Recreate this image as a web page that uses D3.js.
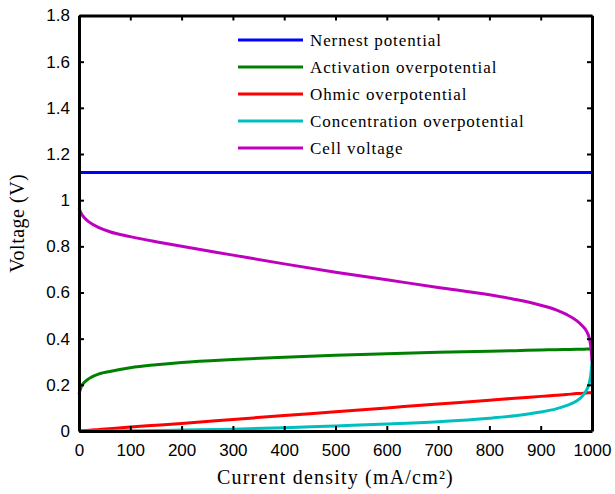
<!DOCTYPE html>
<html>
<head>
<meta charset="utf-8">
<script src="https://cdn.jsdelivr.net/npm/d3@7"></script>
<style>
  body { margin: 0; background: #fff; }
  svg { display: block; }
</style>
</head>
<body>
<div id="chart"></div>
<script>
// current density samples (mA/cm²)
var current = [0, 5, 10, 20, 40, 60, 100, 150, 200, 300, 400, 500, 600, 700, 800, 850, 900, 930, 950, 970, 980, 990, 995, 998, 1000];

// values (V)
var nernst = [1.12, 1.12, 1.12, 1.12, 1.12, 1.12, 1.12, 1.12, 1.12, 1.12, 1.12, 1.12, 1.12, 1.12, 1.12, 1.12, 1.12, 1.12, 1.12, 1.12, 1.12, 1.12, 1.12, 1.12, 1.12];
var activation = [0.16, 0.195, 0.21, 0.228, 0.248, 0.258, 0.274, 0.287, 0.297, 0.31, 0.32, 0.328, 0.335, 0.341, 0.346, 0.348, 0.351, 0.352, 0.353, 0.354, 0.354, 0.355, 0.355, 0.355, 0.355];
var ohmic = [0, 0.001, 0.002, 0.003, 0.007, 0.01, 0.017, 0.025, 0.033, 0.05, 0.067, 0.083, 0.1, 0.117, 0.133, 0.142, 0.15, 0.155, 0.158, 0.162, 0.163, 0.165, 0.166, 0.166, 0.167];
var concentration = [0, 0, 0, 0, 0, 0, 0.001, 0.002, 0.004, 0.008, 0.014, 0.022, 0.03, 0.04, 0.055, 0.066, 0.082, 0.096, 0.11, 0.13, 0.148, 0.18, 0.21, 0.25, 0.3];
var cellVoltage = [0.965, 0.94, 0.925, 0.905, 0.88, 0.863, 0.842, 0.82, 0.8, 0.762, 0.724, 0.688, 0.655, 0.622, 0.59, 0.57, 0.545, 0.525, 0.505, 0.478, 0.458, 0.43, 0.4, 0.36, 0.3];

var seriesNames = ["Nernest potential", "Activation overpotential", "Ohmic overpotential", "Concentration overpotential", "Cell voltage"];
var seriesColors = ["#0000ff", "#008000", "#ff0000", "#00bfbf", "#bf00bf"];
var seriesValues = [nernst, activation, ohmic, concentration, cellVoltage];

var xTicks = [0, 100, 200, 300, 400, 500, 600, 700, 800, 900, 1000];
var yTicks = [0, 0.2, 0.4, 0.6, 0.8, 1, 1.2, 1.4, 1.6, 1.8];

var width = 615,
    height = 494;

var margin = {left: 79, right: 23, top: 15.5, bottom: 63};

var svg = d3.select("#chart")
    .append("svg")
    .attr("width", width)
    .attr("height", height);

var x = d3.scaleLinear()
    .domain([0, 1000])
    .range([margin.left, width - margin.right]);

var y = d3.scaleLinear()
    .domain([0, 1.8])
    .range([height - margin.bottom, margin.top]);

var line = d3.line()
    .x(function(d) { return x(d[0]); })
    .y(function(d) { return y(d[1]); })
    .curve(d3.curveMonotoneX);

// curves
seriesValues.forEach(function(vals, k) {
    var pts = current.map(function(c, i) { return [c, vals[i]]; });
    svg.append("path")
        .attr("d", line(pts))
        .attr("fill", "none")
        .attr("stroke", seriesColors[k])
        .attr("stroke-width", 3)
        .attr("stroke-linejoin", "round");
});

// axes, ticks point inward on all four sides
var tickFont = "'Liberation Sans', Arial, sans-serif";
var serif = "'Liberation Serif', 'Times New Roman', serif";

var xBottom = svg.append("g")
    .attr("transform", "translate(0," + y(0) + ")")
    .call(d3.axisBottom(x).tickValues(xTicks).tickSizeInner(-5).tickSizeOuter(0).tickPadding(13).tickFormat(d3.format("d")));
var xTop = svg.append("g")
    .attr("transform", "translate(0," + y(1.8) + ")")
    .call(d3.axisTop(x).tickValues(xTicks).tickSizeInner(-5).tickSizeOuter(0).tickFormat(""));
var yLeft = svg.append("g")
    .attr("transform", "translate(" + x(0) + ",0)")
    .call(d3.axisLeft(y).tickValues(yTicks).tickSizeInner(-5).tickSizeOuter(0).tickPadding(9).tickFormat(function(d) { return d3.format("")(+d.toFixed(1)); }));
var yRight = svg.append("g")
    .attr("transform", "translate(" + x(1000) + ",0)")
    .call(d3.axisRight(y).tickValues(yTicks).tickSizeInner(-5).tickSizeOuter(0).tickFormat(""));

[xBottom, xTop, yLeft, yRight].forEach(function(g) {
    g.select(".domain").attr("stroke", "#000").attr("stroke-width", 3);
    g.selectAll(".tick line").attr("stroke", "#000").attr("stroke-width", 2);
    g.selectAll("text")
        .attr("fill", "#000")
        .style("font-family", tickFont)
        .style("font-size", "17px");
});

// axis titles
svg.append("text")
    .attr("x", (x(0) + x(1000)) / 2)
    .attr("y", 484)
    .attr("text-anchor", "middle")
    .style("font-family", serif)
    .style("font-size", "20px")
    .style("letter-spacing", "1.2px")
    .text("Current density (mA/cm²)");

svg.append("text")
    .attr("transform", "translate(24," + (y(0) + y(1.8)) / 2 + ") rotate(-90)")
    .attr("text-anchor", "middle")
    .style("font-family", serif)
    .style("font-size", "20px")
    .style("letter-spacing", "0.5px")
    .text("Voltage (V)");

// legend, no box
var legend = svg.append("g")
    .attr("transform", "translate(238,40)");

seriesNames.forEach(function(name, i) {
    var row = legend.append("g").attr("transform", "translate(0," + (i * 27) + ")");
    row.append("line")
        .attr("x1", 0).attr("x2", 65)
        .attr("y1", 0).attr("y2", 0)
        .attr("stroke", seriesColors[i])
        .attr("stroke-width", 3);
    row.append("text")
        .attr("x", 72)
        .attr("y", 5.5)
        .style("font-family", serif)
        .style("font-size", "17px")
        .style("letter-spacing", "0.9px")
        .text(name);
});
</script>
</body>
</html>
